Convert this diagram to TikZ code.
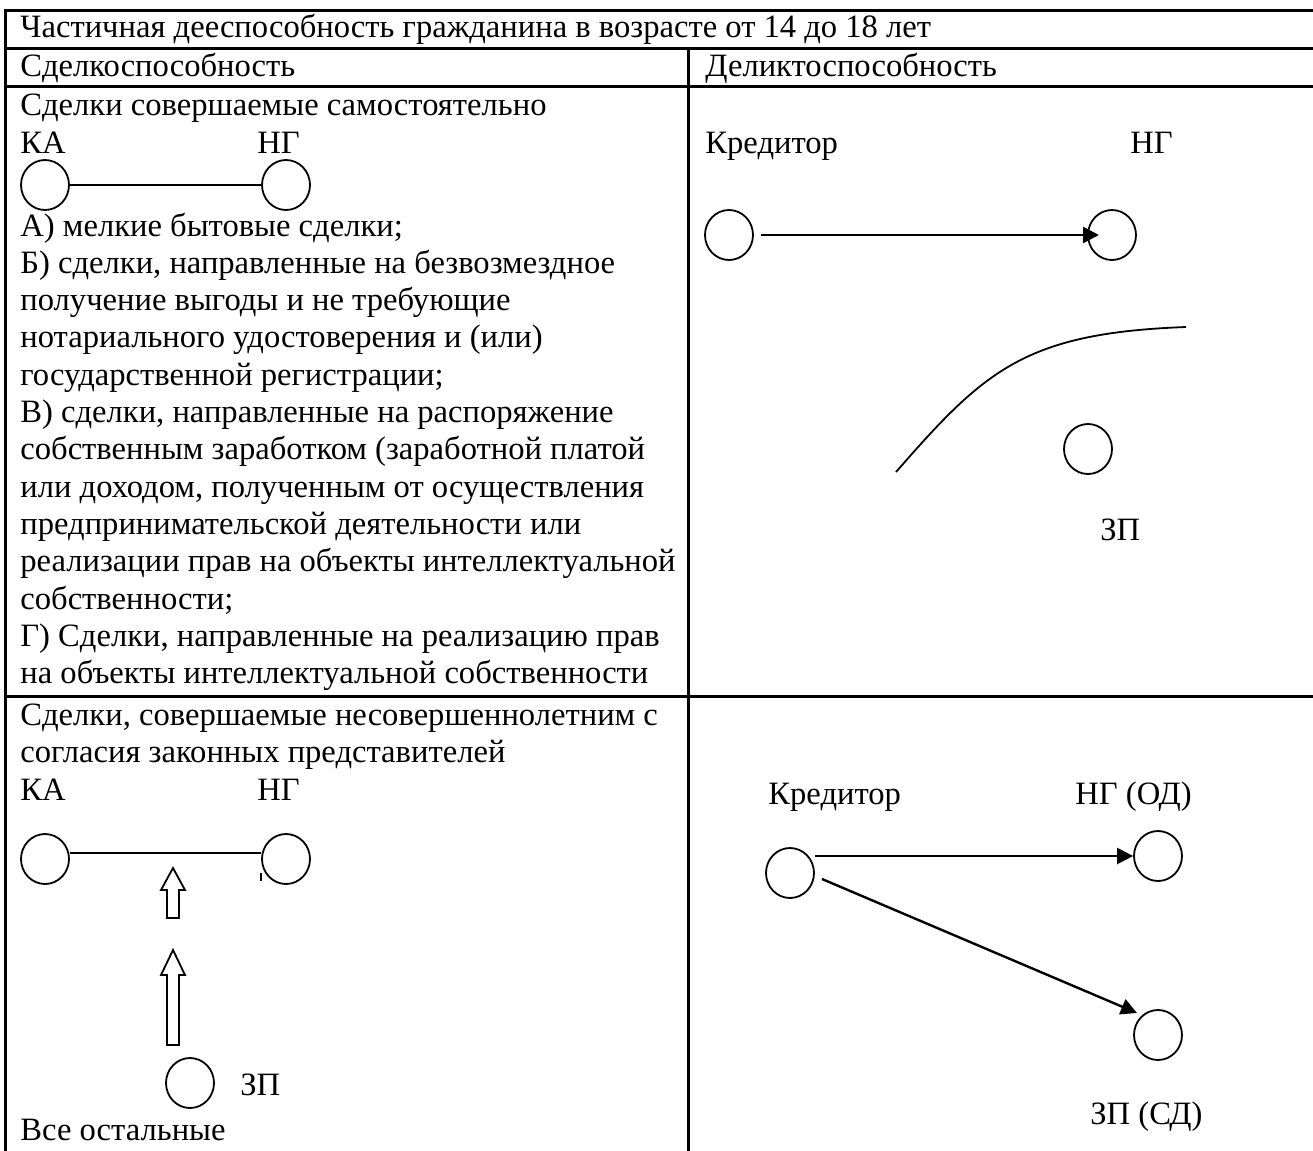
\documentclass[tikz,border=0pt]{standalone}
\usepackage{fontspec}
\setmainfont{Liberation Serif}
\newfontfamily\tnrfont{Liberation Serif}
\usetikzlibrary{arrows.meta,shapes.geometric}
\begin{document}
\begin{tikzpicture}[x=0.5pt,y=-0.5pt,
  tline/.style={line width=1.5pt},
  txt/.style={anchor=base west,inner sep=0pt,font=\tnrfont\fontsize{16.3}{18.6}\selectfont},
  oval/.style={draw,ellipse,line width=0.9pt,minimum width=24pt,minimum height=25pt,inner sep=0pt},
  link/.style={line width=0.9pt},
  arr/.style={line width=1.2pt,-{Triangle[length=8pt,width=8pt]}},
  hollow/.style={draw,line width=0.9pt,fill=white,line join=miter}]
\useasboundingbox (0,0) rectangle (1313,1151);
% table grid
\draw[tline] (1313,10) -- (5,10) -- (5,1151);
\draw[tline] (5,48) -- (1313,48);
\draw[tline] (5,86) -- (1313,86);
\draw[tline] (5,696) -- (1313,696);
\draw[tline] (688,48) -- (688,1151);
% header texts
\node[txt] (title) at (20,38) {Частичная дееспособность гражданина в возрасте от 14 до 18 лет};
\node[txt] (h1) at (20,76) {Сделкоспособность};
\node[txt] (h2) at (705,76) {Деликтоспособность};
% row 3 left
\node[txt] (s1) at (20,115) {Сделки совершаемые самостоятельно};
\node[txt] (ka1) at (20,153) {КА};
\node[txt] (ng1) at (257,153) {НГ};
\node[oval] (cka1) at (45,185) {};
\node[oval] (cng1) at (286,185) {};
\draw[link] (cka1) -- (cng1);
\foreach \t [count=\i] in {{А) мелкие бытовые сделки;},
  {Б) сделки, направленные на безвозмездное},
  {получение выгоды и не требующие},
  {нотариального удостоверения и (или)},
  {государственной регистрации;},
  {В) сделки, направленные на распоряжение},
  {собственным заработком (заработной платой},
  {или доходом, полученным от осуществления},
  {предпринимательской деятельности или},
  {реализации прав на объекты интеллектуальной},
  {собственности;},
  {Г) Сделки, направленные на реализацию прав},
  {на объекты интеллектуальной собственности}}
  \node[txt] (l\i) at (20,{236+(\i-1)*37.3}) {\t};
% row 3 right
\node[txt] (kr1) at (705,153) {Кредитор};
\node[txt] (ng2) at (1130,153) {НГ};
\node[oval] (ckr1) at (729,235) {};
\node[oval] (cng2) at (1112,235) {};
\coordinate (a1s) at (761,235);
\coordinate (a1e) at (1099,235);
\draw[arr] (a1s) -- (a1e);
\coordinate (cv1) at (896,472);
\coordinate (cv2) at (1186,327);
\draw[link] (cv1) .. controls (985,370) and (1025,333) .. (cv2);
\node[oval] (czp1) at (1088,449) {};
\node[txt] (zp1) at (1100,540) {ЗП};
% row 4 left
\node[txt] (s2) at (20,725) {Сделки, совершаемые несовершеннолетним с};
\node[txt] (s3) at (20,762) {согласия законных представителей};
\node[txt] (ka2) at (20,800) {КА};
\node[txt] (ng3) at (257,800) {НГ};
\node[oval] (cka2) at (45,859) {};
\node[oval] (cng3) at (286,859) {};
\draw[link] (cka2.east |- 0,853) coordinate (lk1) -- (cng3.west |- 0,853) coordinate (lk2);
\coordinate (tk1) at (261,873);
\coordinate (tk2) at (261,881);
\draw[line width=0.6pt] (tk1) -- (tk2);
% hollow block arrows
\draw[hollow] (173,868) -- (185,890) -- (179,890) -- (179,918) -- (167,918) -- (167,890) -- (161,890) -- cycle;
\draw[hollow] (173,950) -- (185,975) -- (179,975) -- (179,1045) -- (167,1045) -- (167,975) -- (161,975) -- cycle;
\node[oval] (czp2) at (190,1083) {};
\node[txt] (zp2) at (240,1095) {ЗП};
\node[txt] (rest) at (20,1140) {Все остальные};
% row 4 right
\node[txt] (kr2) at (768,804) {Кредитор};
\node[txt] (ng4) at (1075,804) {НГ (ОД)};
\node[oval] (ckr2) at (790,873) {};
\node[oval] (cng4) at (1158,856) {};
\node[oval] (czp3) at (1158,1035) {};
\node[txt] (zp3) at (1090,1124) {ЗП (СД)};
\draw[arr] (ckr2.east |- cng4) -- (cng4.west);
\coordinate (d1) at (822,879);
\draw[arr] (d1) -- (1137,1013);
\end{tikzpicture}
\end{document}
